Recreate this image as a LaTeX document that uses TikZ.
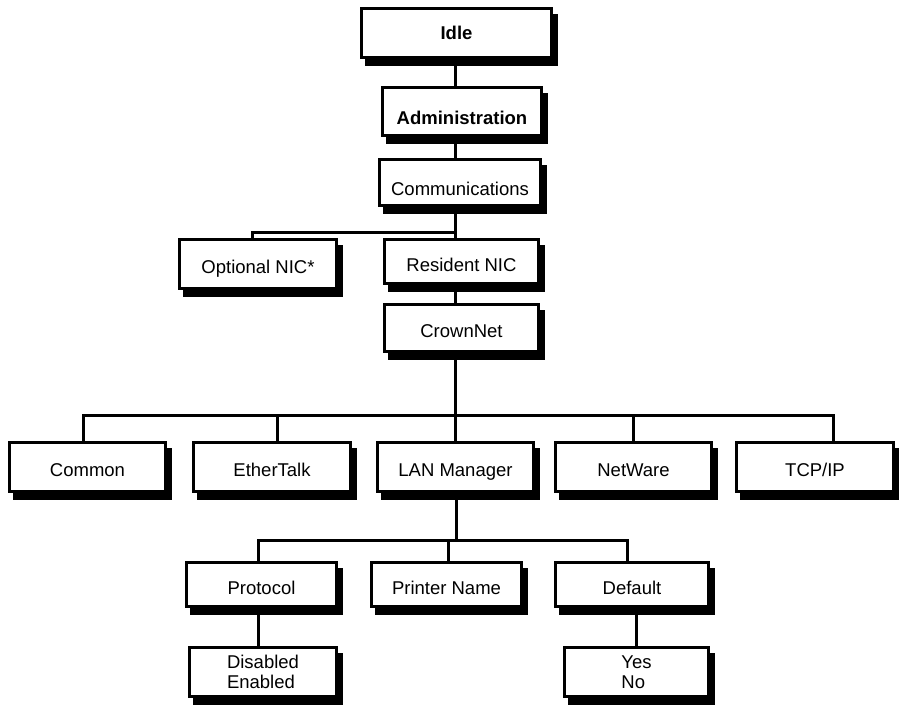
\documentclass[tikz,border=0pt]{standalone}
\usepackage{fontspec}
\setmainfont{Liberation Sans}
\usetikzlibrary{shadows}

\begin{document}
\begin{tikzpicture}[
    x=1pt, y=-1pt,
    box/.style={rectangle, draw, line width=3pt, fill=white, minimum width=157pt, minimum height=49pt,
        inner sep=2pt, align=center, text height=19pt, text depth=0pt, font=\fontsize{18.5}{21}\selectfont,
        drop shadow={shadow xshift=5pt, shadow yshift=-7pt, fill=black, draw=black, line width=3pt, opacity=1}},
    lowtext/.style={text height=25pt},
    twoline/.style={text height={}, text depth={}, align=left, font=\fontsize{18.5}{20.5}\selectfont},
    link/.style={line width=3pt}
]
    \useasboundingbox (0,0) rectangle (899,704);

    % Top chain
    \node[box, minimum width=190pt, text height=13pt] (idle) at (456.5,33) {\bfseries Idle};
    \node[box, lowtext, minimum width=159pt, minimum height=48pt] (admin) at (462,111.5) {\bfseries Administration};
    \node[box, lowtext, minimum width=161pt, minimum height=46pt] (comm) at (460,182.5) {Communications};

    % NIC level
    \node[box] (opt) at (258,264) {Optional NIC*};
    \node[box, minimum width=154pt, minimum height=44pt] (res) at (461.5,261.5) {Resident NIC};
    \node[box, minimum width=154pt, minimum height=47pt] (crown) at (461.5,328) {CrownNet};

    % Protocol row
    \node[box, minimum width=156pt] (common) at (87.5,467) {Common};
    \node[box] (ether) at (272,467) {EtherTalk};
    \node[box, minimum width=156pt] (lan) at (455.5,467) {LAN Manager};
    \node[box, minimum width=156pt] (netw) at (633.5,467) {NetWare};
    \node[box] (tcp) at (815,467) {TCP/IP};

    % LAN Manager settings
    \node[box, minimum width=150pt, minimum height=44pt] (proto) at (261.5,584.5) {Protocol};
    \node[box, minimum width=150pt, minimum height=44pt] (printer) at (446.5,584.5) {Printer Name};
    \node[box, minimum width=153pt, minimum height=44pt] (dflt) at (632,584.5) {Default};

    % Values
    \node[box, twoline, minimum width=147pt] (dis) at (263,672) {Disabled\\Enabled};
    \node[box, twoline, minimum width=144pt] (yesno) at (636.5,672) {Yes\\No};

    % Bus points
    \coordinate (spine) at (455,0);
    \coordinate (bus1) at (455,232);
    \coordinate (bus2) at (455,415);
    \coordinate (bus3) at (456,540);

    % Connectors
    \draw[link] (idle.south -| spine) -- (admin.north -| spine);
    \draw[link] (admin.south -| spine) -- (comm.north -| spine);
    \draw[link] (comm.south -| spine) -- (res.north -| spine);
    \draw[link] (bus1) -| ([xshift=-6pt]opt.north);
    \draw[link] (res.south -| spine) -- (crown.north -| spine);
    \draw[link] (crown.south -| bus2) -- (bus2);
    \draw[link] (bus2) -| ([xshift=-4pt]common.north);
    \draw[link] (bus2) -| ([xshift=5pt]ether.north);
    \draw[link] (bus2) -- (lan.north -| bus2);
    \draw[link] (bus2) -| (netw.north);
    \draw[link] (bus2) -| ([xshift=18pt]tcp.north);
    \draw[link] (lan.south -| bus3) -- (bus3);
    \draw[link] (bus3) -| ([xshift=-3pt]proto.north);
    \draw[link] (bus3) -| ([xshift=2pt]printer.north);
    \draw[link] (bus3) -| ([xshift=-5pt]dflt.north);
    \draw[link] ([xshift=-3pt]proto.south) -- ([xshift=-3pt]proto.south |- dis.north);
    \draw[link] (yesno.north) -- (yesno.north |- dflt.south);

\end{tikzpicture}
\end{document}
